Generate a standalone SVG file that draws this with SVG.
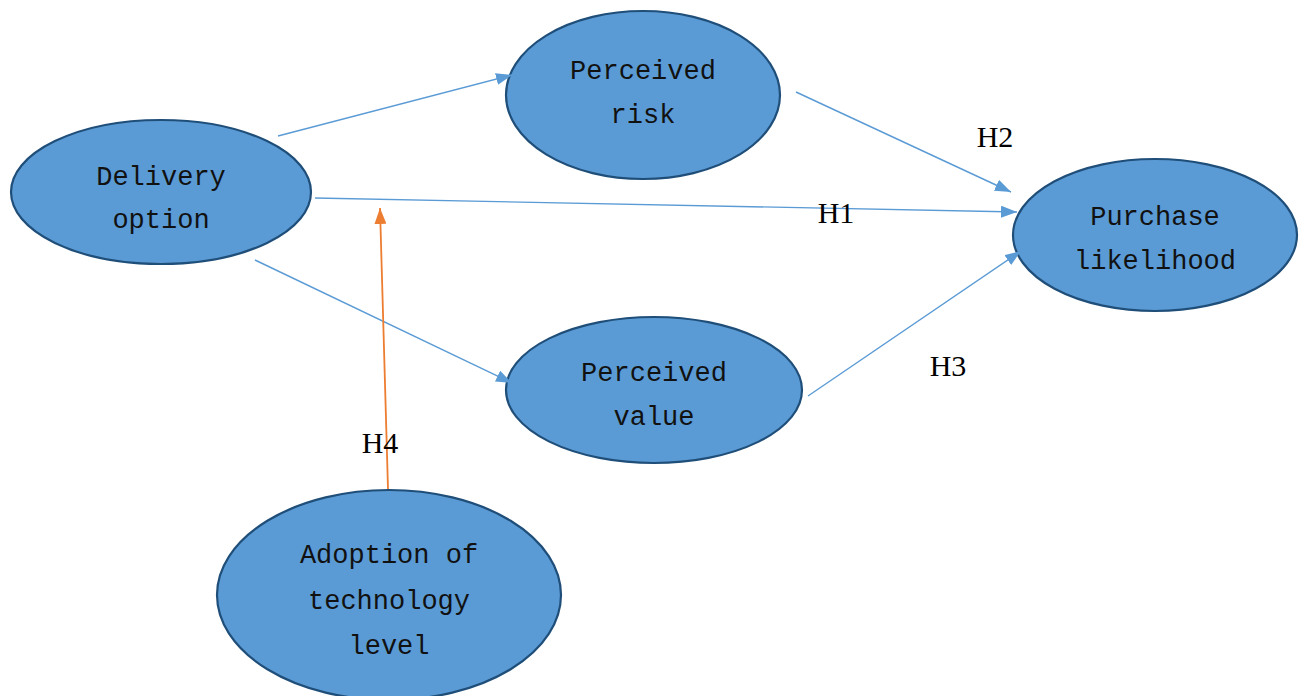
<svg xmlns="http://www.w3.org/2000/svg" width="1305" height="696" viewBox="0 0 1305 696">
<style>
.node ellipse{fill:#5B9BD5;stroke:#1F4E79;stroke-width:2.2}
.node text{font-family:"Liberation Mono","DejaVu Sans Mono",monospace;font-size:27px;fill:#111;text-anchor:middle}
.edge{stroke:#5B9BD5;stroke-width:1.4;fill:none;marker-end:url(#ab)}
.edge.orange{stroke:#ED7D31;stroke-width:1.8;marker-end:url(#ao)}
.lbl{font-family:"Liberation Serif","Times New Roman",serif;font-size:30px;fill:#000;text-anchor:middle}
</style>
<defs>
<marker id="ab" viewBox="0 0 16 12" refX="16" refY="6" markerWidth="16" markerHeight="12" markerUnits="userSpaceOnUse" orient="auto"><path d="M0,0 L16,6 L0,12 z" fill="#5B9BD5"/></marker>
<marker id="ao" viewBox="0 0 16 12" refX="16" refY="6" markerWidth="16" markerHeight="12" markerUnits="userSpaceOnUse" orient="auto"><path d="M0,0 L16,6 L0,12 z" fill="#ED7D31"/></marker>
</defs>
<rect width="1305" height="696" fill="#fff"/>
<g id="n-delivery" class="node"><ellipse cx="161" cy="192" rx="150" ry="72"/><text x="161" y="185">Delivery</text><text x="161" y="228">option</text></g>
<g id="n-risk" class="node"><ellipse cx="643" cy="95" rx="137" ry="84"/><text x="643" y="79">Perceived</text><text x="643" y="123">risk</text></g>
<g id="n-purchase" class="node"><ellipse cx="1155" cy="235" rx="142" ry="76"/><text x="1155" y="225">Purchase</text><text x="1155" y="269">likelihood</text></g>
<g id="n-value" class="node"><ellipse cx="654" cy="390" rx="148" ry="73"/><text x="654" y="381">Perceived</text><text x="654" y="425">value</text></g>
<g id="n-adoption" class="node"><ellipse cx="389" cy="595" rx="172" ry="105"/><text x="389" y="563">Adoption of</text><text x="389" y="609">technology</text><text x="389" y="654">level</text></g>
<g id="connectors">
<line class="edge" x1="278" y1="136" x2="512" y2="75"/>
<line class="edge" x1="796" y1="92" x2="1011" y2="192"/>
<line class="edge" x1="315" y1="198" x2="1017" y2="212"/>
<line class="edge" x1="255" y1="260" x2="512" y2="383"/>
<line class="edge" x1="808" y1="396" x2="1021" y2="251"/>
<line class="edge orange" x1="388" y1="489" x2="380" y2="208"/>
</g>
<g id="labels">
<text class="lbl" x="995" y="147">H2</text>
<text class="lbl" x="836" y="223">H1</text>
<text class="lbl" x="948" y="376">H3</text>
<text class="lbl" x="380" y="453">H4</text>
</g>
</svg>
